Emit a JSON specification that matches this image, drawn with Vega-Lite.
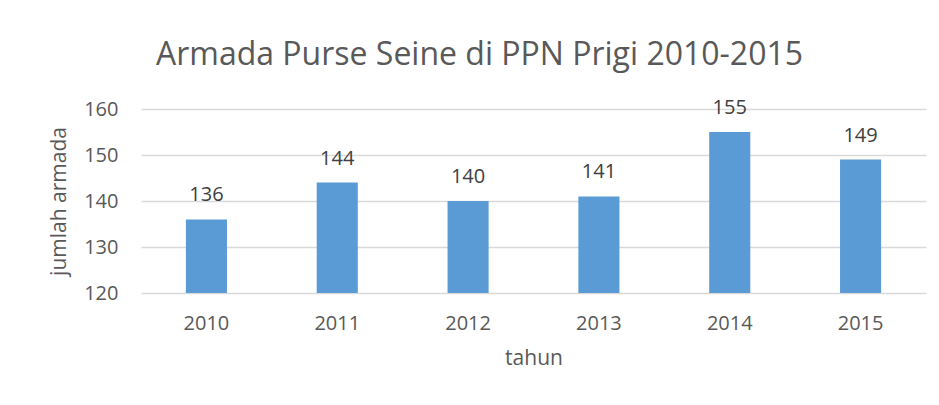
{
  "$schema": "https://vega.github.io/schema/vega-lite/v6.json",
  "autosize": "none",
  "width": 785,
  "height": 184,
  "padding": {"left": 141, "top": 109, "right": 13, "bottom": 112},
  "background": "white",
  "title": {
    "text": "Armada Purse Seine di PPN Prigi 2010-2015",
    "font": "Open Sans",
    "fontSize": 32,
    "fontWeight": "normal",
    "color": "#595959",
    "anchor": "middle",
    "dx": -54,
    "offset": 26
  },
  "config": {
    "view": {"stroke": null},
    "font": "Open Sans"
  },
  "data": {
    "values": [
      {"tahun": "2010", "jumlah": 136},
      {"tahun": "2011", "jumlah": 144},
      {"tahun": "2012", "jumlah": 140},
      {"tahun": "2013", "jumlah": 141},
      {"tahun": "2014", "jumlah": 155},
      {"tahun": "2015", "jumlah": 149}
    ]
  },
  "encoding": {
    "x": {
      "field": "tahun",
      "type": "ordinal",
      "title": "tahun",
      "scale": {"paddingInner": 0.686, "paddingOuter": 0.343},
      "axis": {
        "labelAngle": 0,
        "ticks": false,
        "domain": false,
        "labelFont": "Open Sans",
        "labelFontSize": 20,
        "labelColor": "#595959",
        "labelPadding": 20,
        "titleFont": "Open Sans",
        "titleFontSize": 21,
        "titleFontWeight": "normal",
        "titleColor": "#595959",
        "titlePadding": 14
      }
    },
    "y": {
      "field": "jumlah",
      "type": "quantitative",
      "title": "jumlah armada",
      "scale": {"domain": [120, 160], "nice": false, "zero": false},
      "axis": {
        "values": [120, 130, 140, 150, 160],
        "ticks": false,
        "domain": false,
        "grid": true,
        "gridColor": "#d9d9d9",
        "gridWidth": 1.5,
        "labelFont": "Open Sans",
        "labelFontSize": 20,
        "labelColor": "#595959",
        "labelPadding": 23,
        "titleFont": "Open Sans",
        "titleFontSize": 21,
        "titleFontWeight": "normal",
        "titleColor": "#595959",
        "titlePadding": 14
      }
    }
  },
  "layer": [
    {
      "mark": {"type": "bar", "color": "#5b9bd5"},
      "encoding": {"y2": {"datum": 120}}
    },
    {
      "mark": {
        "type": "text",
        "baseline": "alphabetic",
        "dy": -18,
        "font": "Open Sans",
        "fontSize": 20,
        "color": "#404040"
      },
      "encoding": {"text": {"field": "jumlah", "type": "quantitative"}}
    }
  ]
}
